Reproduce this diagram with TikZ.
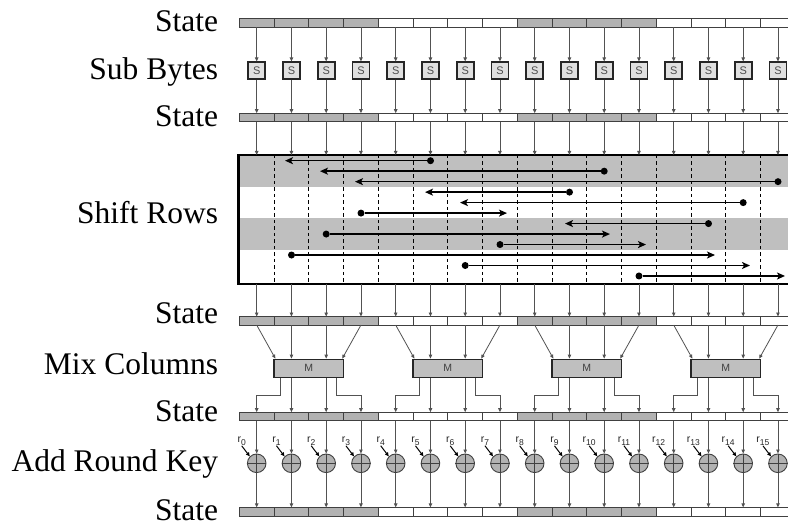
\documentclass[tikz,border=0pt]{standalone}
\usepackage{fontspec}
\setmainfont{Liberation Serif}
\setsansfont{Liberation Sans}
\usetikzlibrary{arrows.meta}
\begin{document}
\begin{tikzpicture}[x=1pt,y=-1pt,
  cell/.style={draw=black!75, line width=0.8pt, minimum width=34.75pt, minimum height=8.5pt, inner sep=0pt, outer sep=0pt},
  conn/.style={draw=black!68, line width=0.8pt, -{Triangle[length=4pt,width=3.4pt]}},
  sbox/.style={draw=black!85, line width=1.7pt, fill=black!12, minimum size=17pt, inner sep=0pt, outer sep=0.85pt, font=\sffamily\fontsize{11}{11}\selectfont, text=black!70},
  mbox/.style={draw=black!85, line width=1.3pt, fill=black!25, minimum width=69.5pt, minimum height=18pt, inner sep=0pt, outer sep=0.65pt, font=\sffamily\fontsize{10.5}{10.5}\selectfont, text=black!75},
  xorn/.style={circle, draw=black!75, line width=0.9pt, fill=black!30, minimum size=18.6pt, inner sep=0pt, outer sep=0.45pt},
  keyl/.style={font=\sffamily\fontsize{10.5}{10.5}\selectfont, inner sep=0.5pt, text=black!85},
  karrow/.style={draw=black, line width=1pt, -{Triangle[length=4pt,width=3.6pt]}},
  dotn/.style={circle, fill=black, minimum size=7pt, inner sep=0pt, outer sep=0pt},
  sarrow/.style={draw=black, line width=1.4pt, -{Stealth[length=8pt,width=7pt,inset=2pt]}},
  dashline/.style={draw=black, line width=0.8pt, dash pattern=on 3.5pt off 3pt},
  lab/.style={anchor=base east, inner sep=0pt, font=\fontsize{31.5}{36}\selectfont}
]
\clip (0,0) rectangle (788,526);
% labels
\node[lab] (l1) at (218.3,31.3) {State};
\node[lab] (l2) at (218.3,80) {Sub Bytes};
\node[lab] (l3) at (218.3,126.7) {State};
\node[lab] (l4) at (218.3,223.3) {Shift Rows};
\node[lab] (l5) at (218.3,323.3) {State};
\node[lab] (l6) at (218.3,375) {Mix Columns};
\node[lab] (l7) at (218.3,421.7) {State};
\node[lab] (l8) at (218.3,471.7) {Add Round Key};
\node[lab] (l9) at (218.3,520.5) {State};
% state bars
\foreach \r/\yy in {1/22.8,2/117.5,3/320.8,4/416.5,5/511.7}{
  \foreach \k in {0,...,15}{
    \pgfmathtruncatemacro\grp{mod(floor(\k/4),2)}
    \ifnum\grp=0 \def\cf{black!30}\else\def\cf{white}\fi
    \node[cell, fill=\cf] (b\r c\k) at ({256.7+34.75*\k},\yy) {};
  }
}
% sub bytes
\foreach \k in {0,...,15}{
  \node[sbox] (S\k) at ({256.7+34.75*\k},70.85) {S};
  \draw[conn] (b1c\k.south) -- (S\k.north);
  \draw[conn] (S\k.south) -- (b2c\k.north);
}
% shift rows
\node[anchor=north west, minimum width=570pt, minimum height=126.7pt, inner sep=0pt, outer sep=1.25pt] (SR) at (238.3,155) {};
\fill[black!25] (238.3,155) rectangle (810,186.7);
\fill[black!25] (238.3,218.3) rectangle (810,250);
\foreach \k in {1,...,15}{
  \draw[dashline] ({239.3+34.75*\k},155) -- ({239.3+34.75*\k},281.7);
}
\foreach \i/\d/\t in {1/430.5/285, 2/604.2/320, 3/778/355, 4/569.5/425, 5/743.2/460, 6/361/507, 7/708.5/565, 8/326.2/610, 9/500/646, 10/291.5/715, 11/465.2/750, 12/639/785}{
  \pgfmathsetmacro\yy{160.7+10.48*(\i-1)}
  \node[dotn] (d\i) at (\d,\yy) {};
  \coordinate (t\i) at (\t,\yy);
  \draw[sarrow] (d\i) -- (t\i);
}
\draw[line width=2.5pt] (SR.north west) rectangle (SR.south east);
\foreach \k in {0,...,15}{
  \draw[conn] (b2c\k.south) -- (b2c\k.south |- SR.north);
  \draw[conn] (b2c\k.south |- SR.south) -- (b3c\k.north);
}
% mix columns
\foreach \j in {0,...,3}{
  \pgfmathtruncatemacro\a{4*\j}
  \pgfmathtruncatemacro\b{4*\j+1}
  \pgfmathtruncatemacro\c{4*\j+2}
  \pgfmathtruncatemacro\d{4*\j+3}
  \node[mbox] (M\j) at ({308.8+139*\j},368.3) {M};
  \draw[conn] (b3c\a.south) -- ([xshift=2pt]M\j.north west);
  \draw[conn] (b3c\b.south) -- (b3c\b.south |- M\j.north);
  \draw[conn] (b3c\c.south) -- (b3c\c.south |- M\j.north);
  \draw[conn] (b3c\d.south) -- ([xshift=-2pt]M\j.north east);
  \draw[conn] ([xshift=7.4pt]M\j.south west) -- ++(0,17) -| (b4c\a.north);
  \draw[conn] (M\j.south -| b4c\b.north) -- (b4c\b.north);
  \draw[conn] (M\j.south -| b4c\c.north) -- (b4c\c.north);
  \draw[conn] ([xshift=-7.4pt]M\j.south east) -- ++(0,17) -| (b4c\d.north);
}
% add round key
\foreach \k in {0,...,15}{
  \node[xorn] (X\k) at ({256.7+34.75*\k},463.3) {};
  \draw[black!75, line width=0.8pt] (X\k.west) -- (X\k.east) (X\k.north) -- (X\k.south);
  \draw[conn] (b4c\k.south) -- (X\k.north);
  \draw[conn] (X\k.south) -- (b5c\k.north);
  \node[keyl] (r\k) at ({256.7+34.75*\k-15},441) {r\raisebox{-2.5pt}{\fontsize{8.5}{9}\selectfont\k}};
  \draw[karrow] (r\k.south) -- (X\k.north west);
}
\end{tikzpicture}
\end{document}
